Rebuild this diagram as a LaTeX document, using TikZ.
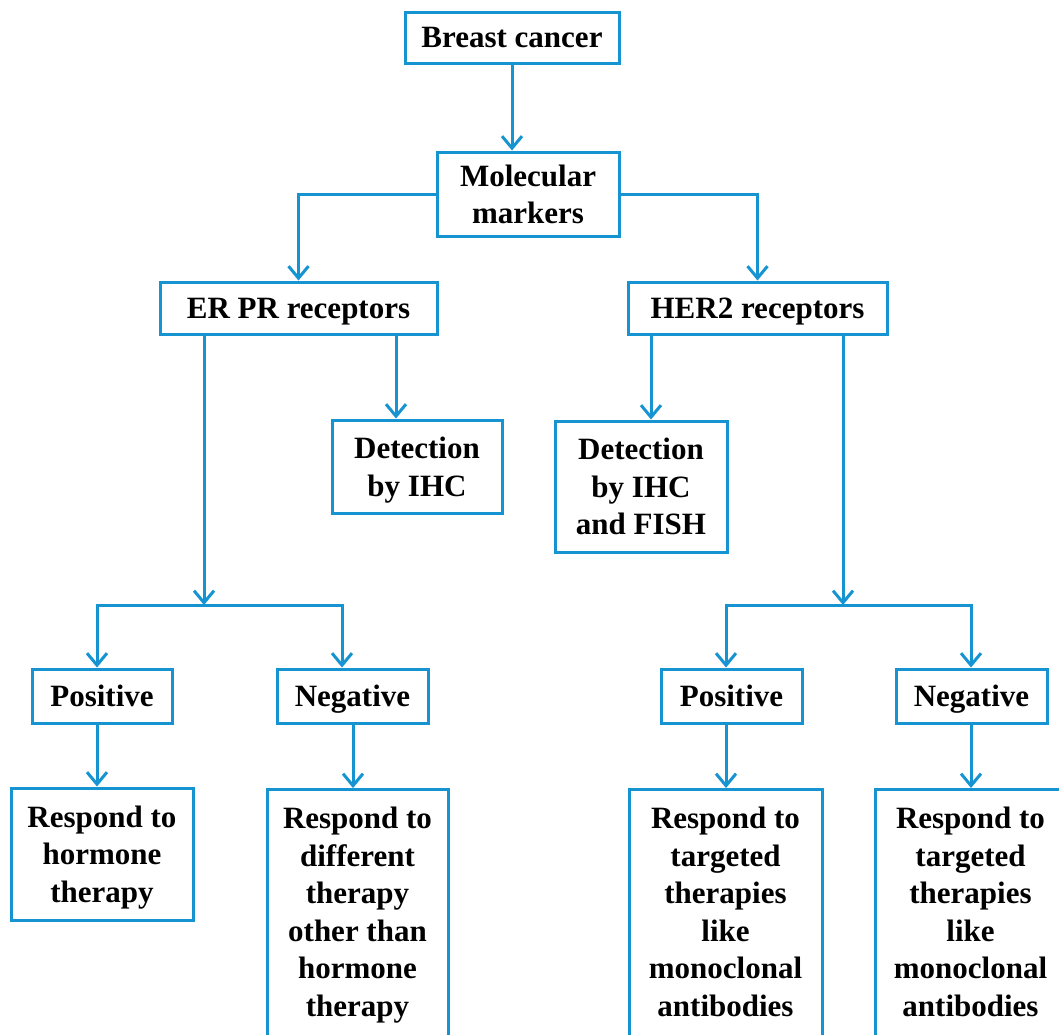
\documentclass[tikz,border=0pt]{standalone}
\usepackage{fontspec}
\setmainfont{Liberation Serif}
\usetikzlibrary{arrows.meta}
\definecolor{lb}{RGB}{22,148,210}
\begin{document}
\begin{tikzpicture}[x=1pt,y=-1pt,
  fnt/.style={font=\bfseries\fontsize{31}{37.5}\selectfont},
  box/.style={draw=lb,line width=3pt,fill=white,inner sep=0pt,align=center,text depth=0pt,fnt},
  txt/.style={inner sep=0pt,align=center,fnt},
  conn/.style={draw=lb,line width=3pt},
  arr/.style={conn,-{Straight Barb[length=12pt,width=20pt]}}]
\useasboundingbox (0,0) rectangle (1059,1034);
\clip (0,0) rectangle (1059,1034);
\fill[white] (0,0) rectangle (1059,1034);

\node[box,minimum width=214pt,minimum height=51pt] (bc) at (512,37.5) {Breast cancer};
\node[box,minimum width=182pt,minimum height=84pt] (mm) at (528,194) {Molecular\\markers};
\node[box,minimum width=277pt,minimum height=52pt] (er) at (298.5,308) {ER PR receptors};
\node[box,minimum width=259pt,minimum height=52pt] (her) at (757.5,308) {HER2 receptors};
\node[box,minimum width=170pt,minimum height=93pt] (d1) at (417,466.5) {Detection\\by IHC};
\node[box,minimum width=172pt,minimum height=131pt] (d2) at (641,486.5) {Detection\\by IHC\\and FISH};
\node[box,minimum width=140pt,minimum height=54pt] (p1) at (102,696) {Positive};
\node[box,minimum width=151pt,minimum height=54pt] (n1) at (352.5,696) {Negative};
\node[box,minimum width=141pt,minimum height=54pt] (p2) at (731.5,696) {Positive};
\node[box,minimum width=151pt,minimum height=54pt] (n2) at (971.5,696) {Negative};
\node[box,minimum width=182pt,minimum height=132pt] (r1) at (102,854) {Respond to\\hormone\\therapy};
\node[box,minimum width=181pt,minimum height=280pt,anchor=north] (r2) at (357.5,788) {};
\node[txt,anchor=north] (r2t) at (357.5,807) {Respond to\\different\\therapy\\other than\\hormone\\therapy};
\node[box,minimum width=193pt,minimum height=280pt,anchor=north] (r3) at (725.5,788) {};
\node[txt,anchor=north] (r3t) at (725.5,807) {Respond to\\targeted\\therapies\\like\\monoclonal\\antibodies};
\node[box,minimum width=191pt,minimum height=280pt,anchor=north] (r4) at (970.5,788) {};
\node[txt,anchor=north] (r4t) at (970.5,807) {Respond to\\targeted\\therapies\\like\\monoclonal\\antibodies};

\coordinate (xa) at (396,0);
\coordinate (xb) at (651,0);
\coordinate (j1) at (204,605);
\coordinate (j1l) at (97,605);
\coordinate (j1r) at (342,605);
\coordinate (j2) at (843,605);
\coordinate (j2l) at (726,605);
\coordinate (j2r) at (971,605);
\coordinate (xn) at (353,0);

\draw[arr] (bc.south) -- (bc.south |- mm.north);
\draw[arr] (mm.west) -| (er.north);
\draw[arr] (mm.east) -| (her.north);
\draw[arr] (er.south -| xa) -- (d1.north -| xa);
\draw[arr] (her.south -| xb) -- (d2.north -| xb);
\draw[arr] (er.south -| j1) -- (j1);
\draw[arr] (her.south -| j2) -- (j2);
\draw[conn,line cap=rect] (j1l) -- (j1r);
\draw[conn,line cap=rect] (j2l) -- (j2r);
\draw[arr] (j1l) -- (p1.north -| j1l);
\draw[arr] (j1r) -- (n1.north -| j1r);
\draw[arr] (j2l) -- (p2.north -| j2l);
\draw[arr] (j2r) -- (n2.north -| j2r);
\draw[arr] (p1.south -| j1l) -- (r1.north -| j1l);
\draw[arr] (n1.south -| xn) -- (r2.north -| xn);
\draw[arr] (p2.south -| j2l) -- (r3.north -| j2l);
\draw[arr] (n2.south -| j2r) -- (r4.north -| j2r);
\end{tikzpicture}
\end{document}
